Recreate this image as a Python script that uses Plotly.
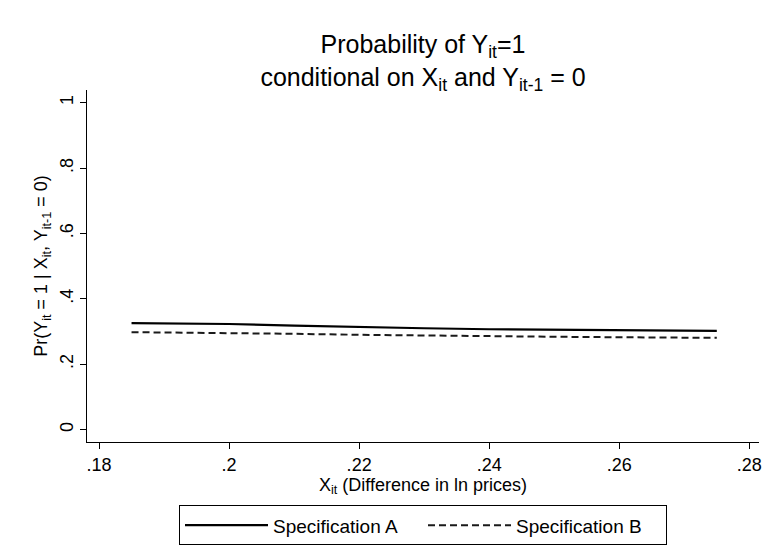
import plotly.graph_objects as go

x_vals = [0.185, 0.20, 0.21, 0.22, 0.23, 0.24, 0.25, 0.26, 0.275]
spec_a = [0.3256, 0.323, 0.318, 0.313, 0.310, 0.307, 0.3057, 0.304, 0.302]
spec_b = [0.298, 0.296, 0.293, 0.290, 0.2875, 0.2855, 0.284, 0.2825, 0.2806]

x_ticks = [0.18, 0.20, 0.22, 0.24, 0.26, 0.28]
x_tick_labels = [".18", ".2", ".22", ".24", ".26", ".28"]
y_ticks = [0, 0.2, 0.4, 0.6, 0.8, 1.0]
y_tick_labels = ["0", ".2", ".4", ".6", ".8", "1"]

FONT = "Liberation Sans, Arial, Helvetica, sans-serif"
W, H = 765, 560

fig = go.Figure()
fig.add_trace(go.Scatter(x=x_vals, y=spec_a, mode="lines", name="Specification A",
                         line=dict(color="black", width=2.2)))
fig.add_trace(go.Scatter(x=x_vals, y=spec_b, mode="lines", name="Specification B",
                         line=dict(color="#1a1a1a", width=2, dash="7px,4px")))

fig.update_layout(
    width=W, height=H,
    paper_bgcolor="white", plot_bgcolor="white",
    font=dict(family=FONT, color="black", size=18),
    margin=dict(l=87, r=6, t=90, b=118, autoexpand=False),
    title=dict(
        text="Probability of Y<sub>it</sub>=1<br>conditional on X<sub>it</sub> and Y<sub>it-1</sub> = 0",
        x=0.5, xref="paper", xanchor="center", y=1 - 53 / H, yanchor="middle", yref="container",
        font=dict(size=25, family=FONT, color="black"),
    ),
    xaxis=dict(
        range=[0.17815, 0.28149], tickvals=x_ticks, ticktext=x_tick_labels,
        showline=True, linecolor="black", linewidth=1, mirror=False, automargin=False,
        ticks="outside", ticklen=6, tickcolor="black", showgrid=False, zeroline=False,
        tickfont=dict(size=18),
        title=dict(text="X<sub>it</sub> (Difference in ln prices)", font=dict(size=18), standoff=2),
    ),
    yaxis=dict(
        range=[-0.038, 1.039], tickvals=y_ticks, ticktext=y_tick_labels,
        showline=True, linecolor="black", linewidth=1, mirror=False, automargin=False,
        ticks="outside", ticklen=6, tickcolor="black", showgrid=False, zeroline=False,
        tickangle=-90, tickfont=dict(size=18),
        title=dict(text="Pr(Y<sub>it</sub> = 1 | X<sub>it</sub>, Y<sub>it-1</sub> = 0)", font=dict(size=18), standoff=4),
    ),
    legend=dict(
        orientation="h", x=0.5, xanchor="center", y=-0.18, yanchor="top",
        bordercolor="black", borderwidth=1, bgcolor="white",
        font=dict(size=19), entrywidth=145, entrywidthmode="pixels",
        itemwidth=83,
    ),
)

fig.write_html(
    "out.html",
    config={"displayModeBar": False},
    post_script="document.body.style.margin='0';document.body.style.overflow='hidden';",
)
